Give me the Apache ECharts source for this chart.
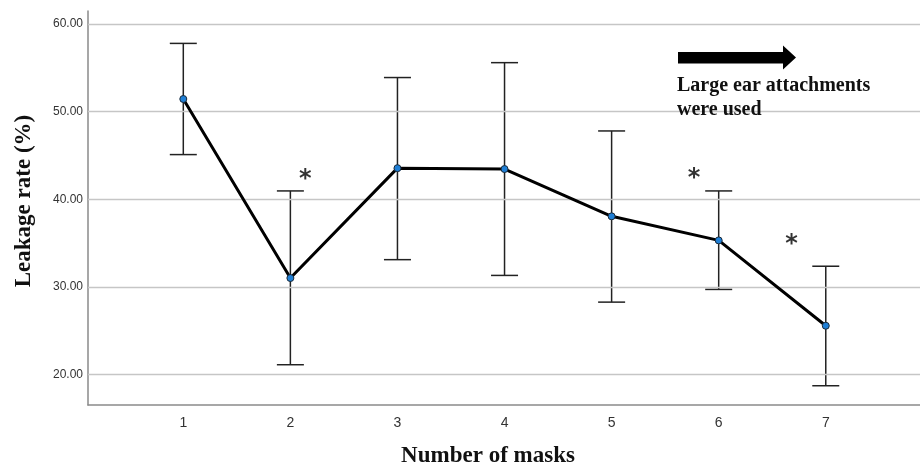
<!DOCTYPE html>
<html><head><meta charset="utf-8">
<script src="https://cdn.jsdelivr.net/npm/echarts@6/dist/echarts.min.js"></script>
<style>html,body{margin:0;padding:0;background:#fff;overflow:hidden}#c{width:920px;height:466px}</style>
</head><body><div id="c"></div>
<script>
const categories = [1, 2, 3, 4, 5, 6, 7];
const means = [51.45, 31.0, 43.55, 43.45, 38.05, 35.3, 25.55];
const upper = [57.8, 40.95, 53.9, 55.6, 47.8, 40.95, 32.35];
const lower = [45.1, 21.1, 33.1, 31.3, 28.25, 29.7, 18.7];
const yTicks = [20, 30, 40, 50, 60];
const starMarks = [[2.14, 42.8], [5.77, 42.9], [6.68, 35.4]];
const annotationLines = ['Large ear attachments', 'were used'];

const serif = '"Liberation Serif", "Times New Roman", serif';
const sans = '"Liberation Sans", Arial, sans-serif';

const chart = echarts.init(document.getElementById('c'), null, {renderer: 'canvas'});

const lineData = categories.map((c, i) => [c, means[i]]);
const errData = categories.map((c, i) => [c, lower[i], upper[i]]);

const option = {
  animation: false,
  backgroundColor: '#fff',
  grid: {left: 88, right: 0, top: 11, bottom: 61, containLabel: false, outerBoundsMode: 'none'},
  xAxis: {
    type: 'value', min: 0.11, max: 7.88, splitNumber: 8,
    name: 'Number of masks', nameLocation: 'middle', nameGap: 40,
    nameTextStyle: {fontFamily: serif, fontWeight: 'bold', fontSize: 23, color: '#111', padding: [0, 32, 0, 0]},
    axisLine: {show: true, lineStyle: {color: '#8a8a8a', width: 1.5}},
    axisTick: {show: false},
    splitLine: {show: false},
    axisLabel: {
      showMinLabel: false, showMaxLabel: false, margin: 11,
      fontFamily: sans, fontSize: 14, color: '#333',
      formatter: v => (Number.isInteger(v) && categories.includes(v)) ? String(v) : ''
    }
  },
  yAxis: {
    type: 'value', min: 16.5, max: 61.5, splitNumber: 5,
    name: 'Leakage rate (%)', nameLocation: 'middle', nameGap: 52,
    nameTextStyle: {fontFamily: serif, fontWeight: 'bold', fontSize: 23, color: '#111', padding: [0, 0, 0, 14]},
    axisLine: {show: true, lineStyle: {color: '#8a8a8a', width: 1.5}},
    axisTick: {show: false},
    splitLine: {show: false},
    axisLabel: {
      showMinLabel: false, showMaxLabel: false, margin: 5,
      fontFamily: sans, fontSize: 12, color: '#333',
      formatter: v => yTicks.includes(v) ? v.toFixed(2) : ''
    }
  },
  graphic: [
    {
      type: 'polygon', z: 100,
      shape: {points: [[678, 52], [783, 52], [783, 45.5], [796, 57.5], [783, 69.5], [783, 63.5], [678, 63.5]]},
      style: {fill: '#000'}
    },
    {
      type: 'text', z: 100, left: 677, top: 74,
      style: {
        text: annotationLines.join('\n'), font: 'bold 20px ' + serif,
        fill: '#111', lineHeight: 24
      }
    }
  ],
  series: [
    {
      type: 'line', data: [], silent: true, z: 1,
      markLine: {
        silent: true, symbol: 'none', label: {show: false},
        lineStyle: {color: '#c6c6c6', width: 1.3, type: 'solid'},
        data: yTicks.map(v => ({yAxis: v}))
      }
    },
    {
      type: 'custom', z: 3, silent: true,
      data: errData,
      renderItem: function (params, api) {
        const x = api.value(0);
        const lo = api.coord([x, api.value(1)]);
        const hi = api.coord([x, api.value(2)]);
        const hw = 13.5;
        const st = {stroke: '#222', lineWidth: 1.5};
        return {
          type: 'group',
          children: [
            {type: 'line', shape: {x1: lo[0], y1: lo[1], x2: hi[0], y2: hi[1]}, style: st},
            {type: 'line', shape: {x1: lo[0] - hw, y1: lo[1], x2: lo[0] + hw, y2: lo[1]}, style: st},
            {type: 'line', shape: {x1: hi[0] - hw, y1: hi[1], x2: hi[0] + hw, y2: hi[1]}, style: st}
          ]
        };
      }
    },
    {
      type: 'line', z: 5, data: lineData,
      lineStyle: {color: '#000', width: 3},
      symbol: 'circle', symbolSize: 7,
      itemStyle: {color: '#1f7fd6', borderColor: '#1a2a3a', borderWidth: 1},
      silent: true
    },
    {
      type: 'scatter', z: 6, data: starMarks, symbolSize: 1,
      itemStyle: {color: 'rgba(0,0,0,0)'}, silent: true,
      label: {
        show: true, position: 'inside', formatter: '*',
        fontFamily: '"DejaVu Sans", sans-serif', fontWeight: 'bold', fontSize: 24, color: '#000',
        offset: [0, 5]
      }
    }
  ]
};
chart.setOption(option);
</script></body></html>
